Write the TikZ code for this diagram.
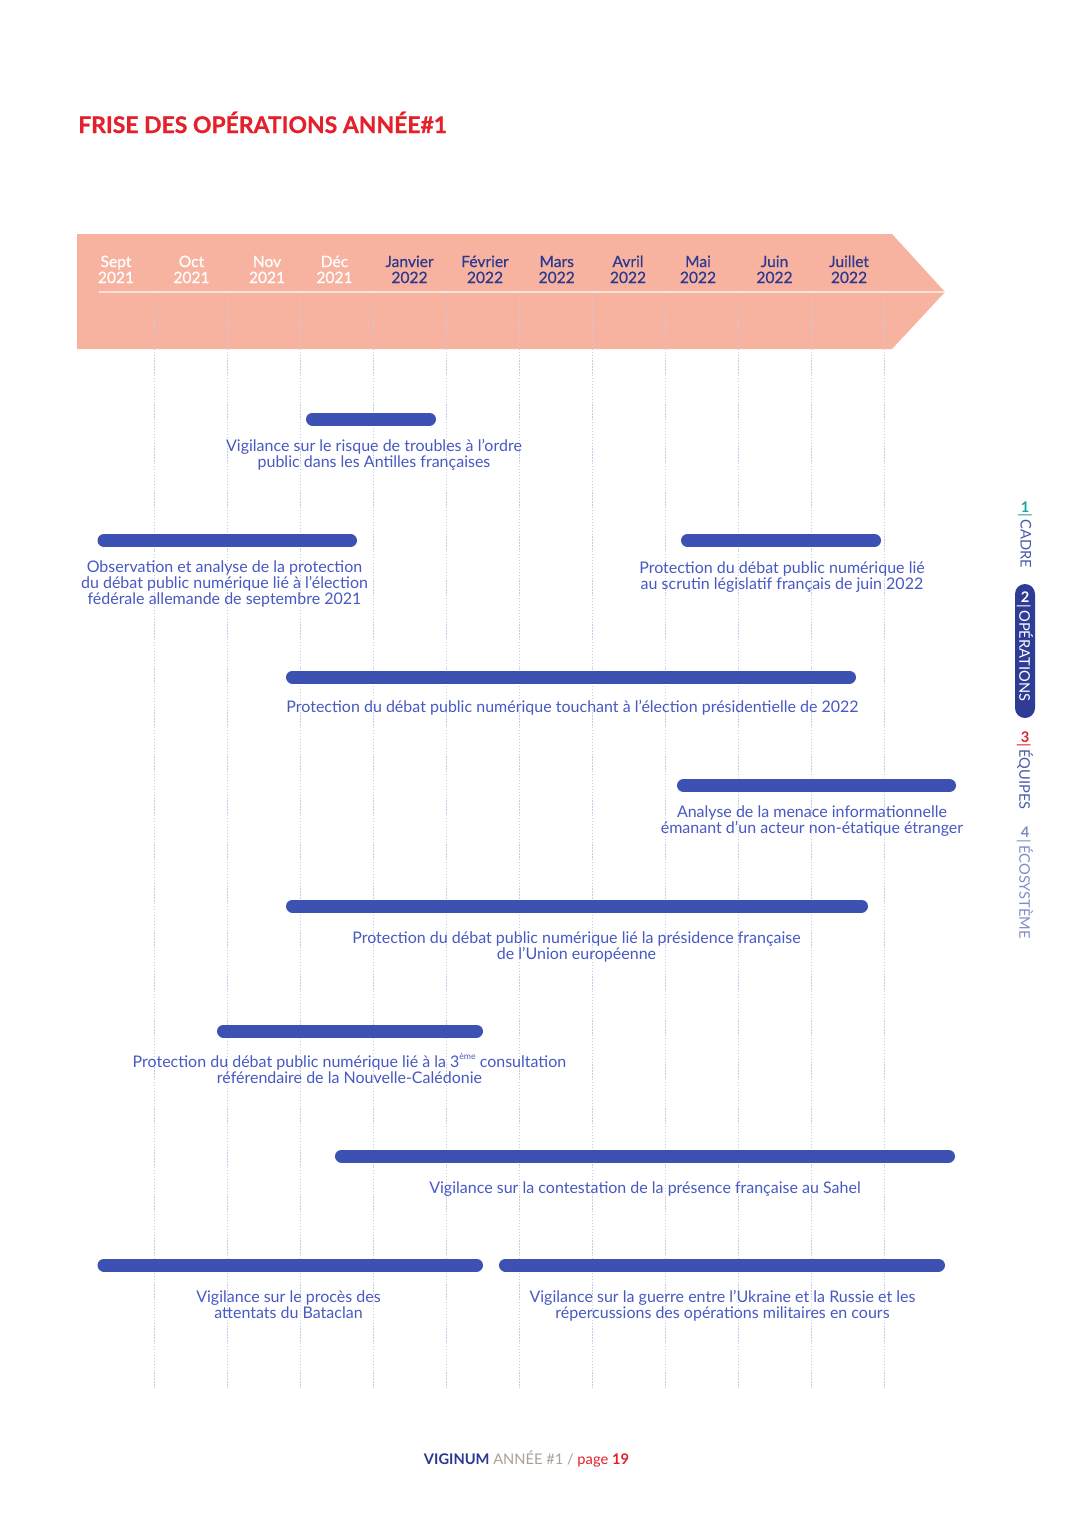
\documentclass[tikz,border=0pt]{standalone}
\usepackage{fontspec}
\setmainfont{Lato}
\newfontfamily\medfont[FakeBold=0.5]{Lato}
\newfontfamily\titlefont[FakeBold=0.8]{Lato Bold}
\definecolor{banner}{HTML}{F8B3A0}
\definecolor{bannerline}{HTML}{FCE2D9}
\definecolor{navy}{HTML}{2B3990}
\definecolor{barblue}{HTML}{3C51B1}
\definecolor{txtblue}{HTML}{4759C2}
\definecolor{gridc}{HTML}{C6CAE4}
\definecolor{titlered}{HTML}{E4202A}
\definecolor{tealc}{HTML}{1AA5A0}
\definecolor{pillblue}{HTML}{2E3C96}
\definecolor{sideblue}{HTML}{4A5AA8}
\definecolor{sidelight}{HTML}{7F8DC6}
\definecolor{beige}{HTML}{A9A099}
\newcommand{\supsmall}[1]{\raisebox{0.5em}{\fontsize{6.5}{6.5}\selectfont #1}}
\begin{document}
\begin{tikzpicture}[x=0.75pt,y=-0.75pt,
  bar/.style={line width=9.75pt, line cap=round, draw=barblue},
  lab/.style={font=\fontsize{12}{12}\selectfont, text=txtblue, align=center, inner sep=0pt, anchor=base},
  month/.style={font=\medfont\fontsize{11.7}{12}\selectfont, align=center, inner sep=0pt, anchor=base},
  gridline/.style={draw=gridc, dash pattern=on 1pt off 1.2pt, line width=0.7pt},
  side/.style={font=\fontsize{11}{11}\selectfont, inner sep=0pt, rotate=-90, anchor=west},
  digit/.style={font=\bfseries\fontsize{11}{11}\selectfont, inner sep=0pt}]
\fill[white] (0,0) rectangle (1077,1522);
\useasboundingbox (0,0) rectangle (1077,1522);

% title
\node[anchor=base west, inner sep=0pt, text=titlered, font=\titlefont\fontsize{17.2}{17.2}\selectfont] (title) at (78,133) {FRISE DES OPÉRATIONS ANNÉE\#1};

% banner
\fill[banner] (77,234) -- (892,234) -- (945,292) -- (892,349) -- (77,349) -- cycle;
\draw[bannerline, line width=1.2pt] (99,292) -- (945,292);

% grid lines
\foreach \x in {154,227,300,373,446,519,592,665,738,811,884}
  \draw[gridline] (\x,293) -- (\x,1388);

% months (anchor = baseline of the last line)
\node[month, text=white] (m1) at (116,283) {Sept\\2021};
\node[month, text=white] (m2) at (191.5,283) {Oct\\2021};
\node[month, text=white] (m3) at (267,283) {Nov\\2021};
\node[month, text=white] (m4) at (334.5,283) {Déc\\2021};
\node[month, text=navy] (m5) at (409.5,283) {Janvier\\2022};
\node[month, text=navy] (m6) at (485,283) {Février\\2022};
\node[month, text=navy] (m7) at (556.7,283) {Mars\\2022};
\node[month, text=navy] (m8) at (628,283) {Avril\\2022};
\node[month, text=navy] (m9) at (698,283) {Mai\\2022};
\node[month, text=navy] (m10) at (774.5,283) {Juin\\2022};
\node[month, text=navy] (m11) at (849,283) {Juillet\\2022};

% bars
\draw[bar] (312.5,419) -- (429.5,419);
\draw[bar] (104,540.5) -- (350.5,540.5);
\draw[bar] (687.5,540.5) -- (874.5,540.5);
\draw[bar] (292.5,677) -- (849.5,677);
\draw[bar] (683.5,785.5) -- (949.5,785.5);
\draw[bar] (292.5,906) -- (861.5,906);
\draw[bar] (223.5,1031) -- (476.5,1031);
\draw[bar] (341.5,1156) -- (948.5,1156);
\draw[bar] (104,1265) -- (476.5,1265);
\draw[bar] (505.5,1265) -- (938.5,1265);

% labels (anchor = baseline of the last line)
\node[lab] (t1) at (374,467) {Vigilance sur le risque de troubles à l’ordre\\public dans les Antilles françaises};
\node[lab] (t2) at (224.5,604) {Observation et analyse de la protection\\du débat public numérique lié à l’élection\\fédérale allemande de septembre 2021};
\node[lab] (t3) at (782,589) {Protection du débat public numérique lié\\au scrutin législatif français de juin 2022};
\node[lab] (t4) at (572.5,712) {Protection du débat public numérique touchant à l’élection présidentielle de 2022};
\node[lab] (t5) at (812,833) {Analyse de la menace informationnelle\\émanant d’un acteur non-étatique étranger};
\node[lab] (t6) at (576.5,959) {Protection du débat public numérique lié la présidence française\\de l’Union européenne};
\node[lab] (t7) at (349.5,1083) {Protection du débat public numérique lié à la 3\supsmall{ème} consultation\\référendaire de la Nouvelle-Calédonie};
\node[lab] (t8) at (645,1193) {Vigilance sur la contestation de la présence française au Sahel};
\node[lab] (t9) at (288.5,1318) {Vigilance sur le procès des\\attentats du Bataclan};
\node[lab] (t10) at (722.5,1318) {Vigilance sur la guerre entre l’Ukraine et la Russie et les\\répercussions des opérations militaires en cours};

% sidebar
\node[digit, text=tealc] (s1) at (1025,507) {1};
\node[side, text=sideblue] (c1) at (1025,513) {\textcolor{tealc}{|}\,CADRE};
\fill[pillblue, rounded corners=7.5pt] (1015,584) rectangle (1035,718);
\node[digit, text=white] (s2) at (1025,597) {2};
\node[side, text=white] (c2) at (1025,604) {|\,OPÉRATIONS};
\node[digit, text=titlered] (s3) at (1025,737) {3};
\node[side, text=sideblue] (c3) at (1025,743) {\textcolor{titlered}{|}\,ÉQUIPES};
\node[digit, text=sidelight] (s4) at (1025,832) {4};
\node[side, text=sidelight] (c4) at (1025,839) {|\,ÉCOSYSTÈME};

% footer
\node[anchor=base, inner sep=0pt, font=\fontsize{11}{11}\selectfont] (foot) at (526.5,1464) {\textcolor{navy}{\bfseries VIGINUM} \textcolor{beige}{ANNÉE \#1 /} \textcolor{titlered}{page \bfseries 19}};
\end{tikzpicture}
\end{document}
